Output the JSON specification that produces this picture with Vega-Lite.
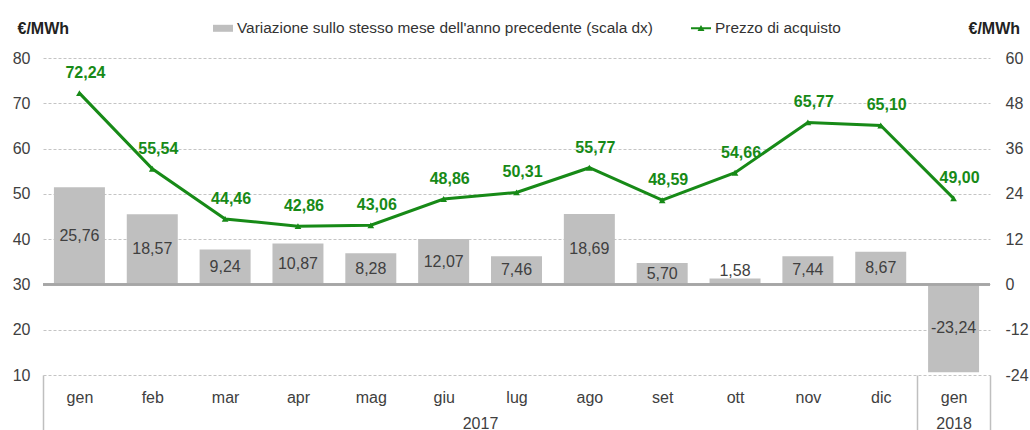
{
  "$schema": "https://vega.github.io/schema/vega-lite/v6.json",
  "width": 947,
  "height": 317,
  "autosize": "none",
  "padding": {"left": 43, "top": 58, "right": 40, "bottom": 55},
  "background": "white",
  "data": {
    "values": [
      {"k": "gen17", "prezzo": 72.24, "var": 25.76},
      {"k": "feb", "prezzo": 55.54, "var": 18.57},
      {"k": "mar", "prezzo": 44.46, "var": 9.24},
      {"k": "apr", "prezzo": 42.86, "var": 10.87},
      {"k": "mag", "prezzo": 43.06, "var": 8.28},
      {"k": "giu", "prezzo": 48.86, "var": 12.07},
      {"k": "lug", "prezzo": 50.31, "var": 7.46},
      {"k": "ago", "prezzo": 55.77, "var": 18.69},
      {"k": "set", "prezzo": 48.59, "var": 5.70},
      {"k": "ott", "prezzo": 54.66, "var": 1.58},
      {"k": "nov", "prezzo": 65.77, "var": 7.44},
      {"k": "dic", "prezzo": 65.10, "var": 8.67},
      {"k": "gen18", "prezzo": 49.00, "var": -23.24}
    ]
  },
  "encoding": {
    "x": {
      "field": "k",
      "type": "nominal",
      "sort": null,
      "scale": {"paddingInner": 0.3, "paddingOuter": 0.15},
      "axis": {
        "title": "2017",
        "titleX": 437,
        "titleY": 48,
        "titleAlign": "center",
        "titleBaseline": "middle",
        "titleFontWeight": "normal",
        "titleFontSize": 16,
        "titleColor": "#404040",
        "labelExpr": "datum.value == 'gen18' ? ['gen','2018'] : datum.value == 'gen17' ? 'gen' : datum.value",
        "labelLineHeight": 26,
        "labelAngle": 0,
        "labelFontSize": 16,
        "labelColor": "#404040",
        "labelPadding": -42,
        "bandPosition": 1.4287,
        "tickOffset": -10.93,
        "labelOffset": 10.93,
        "tickExtra": true,
        "tickSize": 56,
        "tickWidth": 1.5,
        "tickColor": {"condition": {"test": "datum.extra || datum.value == 'dic' || datum.value == 'gen18'", "value": "#bfbfbf"}, "value": "transparent"},
        "domain": false,
        "grid": false
      }
    }
  },
  "layer": [
    {
      "layer": [
        {
          "mark": {"type": "bar", "color": "#bfbfbf"},
          "encoding": {
            "y": {
              "field": "var",
              "type": "quantitative",
              "scale": {"domain": [-24, 60], "nice": false},
              "axis": {
                "orient": "right",
                "values": [-24, -12, 0, 12, 24, 36, 48, 60],
                "grid": false,
                "domain": false,
                "ticks": false,
                "labelPadding": 15,
                "labelFontSize": 16,
                "labelColor": "#404040",
                "title": "€/MWh",
                "titleAngle": 0,
                "titleX": -22,
                "titleY": -30,
                "titleAlign": "left",
                "titleBaseline": "middle",
                "titleFontSize": 16,
                "titleFontWeight": "bold",
                "titleColor": "#222222"
              }
            },
            "color": {
              "datum": "Variazione sullo stesso mese dell'anno precedente (scala dx)",
              "scale": {
                "domain": ["Variazione sullo stesso mese dell'anno precedente (scala dx)", "Prezzo di acquisto"],
                "range": ["#bfbfbf", "#178a17"]
              },
              "legend": {
                "orient": "none",
                "legendX": 170,
                "legendY": -40,
                "direction": "horizontal",
                "title": null,
                "labelFontSize": 15.4,
                "labelColor": "#333333",
                "labelLimit": 0,
                "symbolSize": 400,
                "columnPadding": 38,
                "labelOffset": 4,
                "encode": {
                  "symbols": {
                    "update": {
                      "shape": {"signal": "datum.value === 'Prezzo di acquisto' ? 'M-1,-0.1H1V0.1H-1Z M-0.35,0.28L0,-0.32L0.35,0.28Z' : 'M-1,-0.35H1V0.35H-1Z'"},
                      "fill": {"signal": "datum.value === 'Prezzo di acquisto' ? '#178a17' : '#bfbfbf'"},
                      "strokeWidth": {"value": 0},
                      "opacity": {"value": 1}
                    }
                  }
                }
              }
            }
          }
        },
        {
          "mark": {"type": "rule", "color": "#a6a6a6", "strokeWidth": 1.5},
          "encoding": {"y": {"datum": 0, "type": "quantitative"}, "x": {}}
        },
        {
          "transform": [{"calculate": "abs(datum.var) < 3 ? datum.var + 2 : datum.var / 2", "as": "lp"}],
          "mark": {"type": "text", "fontSize": 16, "color": "#404040", "baseline": "middle"},
          "encoding": {
            "y": {"field": "lp", "type": "quantitative"},
            "text": {"field": "var", "type": "quantitative", "format": ".2f"}
          }
        }
      ]
    },
    {
      "layer": [
        {
          "mark": {"type": "line", "color": "#178a17", "strokeWidth": 3},
          "encoding": {
            "y": {
              "field": "prezzo",
              "type": "quantitative",
              "scale": {"domain": [10, 80], "nice": false, "zero": false},
              "axis": {
                "orient": "left",
                "values": [10, 20, 30, 40, 50, 60, 70, 80],
                "grid": true,
                "gridColor": "#c4c4c4",
                "gridDash": [3, 2],
                "gridWidth": 1,
                "domain": false,
                "ticks": false,
                "labelPadding": 13,
                "labelFontSize": 16,
                "labelColor": "#404040",
                "title": "€/MWh",
                "titleAngle": 0,
                "titleX": -26,
                "titleY": -30,
                "titleAlign": "left",
                "titleBaseline": "middle",
                "titleFontSize": 16,
                "titleFontWeight": "bold",
                "titleColor": "#222222"
              }
            },
            "color": {"datum": "Prezzo di acquisto"}
          }
        },
        {
          "mark": {"type": "point", "shape": "triangle-up", "filled": true, "color": "#178a17", "size": 45, "opacity": 1},
          "encoding": {"y": {"field": "prezzo", "type": "quantitative"}}
        },
        {
          "mark": {"type": "text", "fontSize": 16, "fontWeight": "bold", "color": "#178a17", "dy": -20, "dx": 6},
          "encoding": {
            "y": {"field": "prezzo", "type": "quantitative"},
            "text": {"field": "prezzo", "type": "quantitative", "format": ".2f"}
          }
        }
      ]
    }
  ],
  "resolve": {"scale": {"y": "independent"}, "axis": {"y": "independent"}},
  "config": {
    "font": "Liberation Sans",
    "view": {"stroke": null},
    "locale": {
      "number": {"decimal": ",", "thousands": ".", "grouping": [3], "currency": ["€", ""], "minus": "-"}
    }
  }
}
